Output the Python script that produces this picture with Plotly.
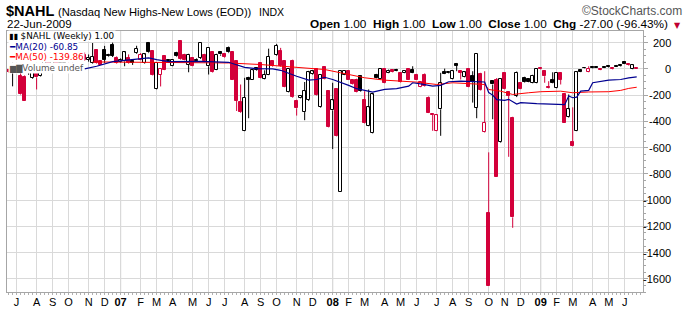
import numpy as np
import pandas as pd
import plotly.graph_objects as go

# ---------------- data (weekly $NAHL) ----------------
weeks = pd.date_range("2006-06-19", periods=158, freq="7D")

opens = [-10, -5, 15, -56, -60, -30, -68, -20, -56, 20, 60, 30, 80, 30, 45, 90, 60, 110, 80, 105,
         70, 45, 141, 57, 146, 108, 184, 83, 50, 57, 83, 57, 121, 70, 45, 197, 133, -157, -43, 95,
         70, 25, 121, 209, 108, 33, 83, 70, 83, 108, 20, 126, -5, 126, 110, 159, 126, 57, -253, -472,
         -68, -81, 8, 45, -76, -43, 57, 108, 133, 57, -177, 63, -245, -220, -329, -238, -40, 0, -293, 12,
         -170, -316, -157, -939, -43, -18, -81, -81, -56, -238, -434, -492, -43, -76, 0, -30, -10, -5, -30, -30,
         0, -10, -43, -136, -43, -220, -346, -472, -308, -26, -35, -76, 40, -18, -61, 0, -56, -295, -36, -484,
         -1096, -94, -81, -560, -30, -180, -372, -207, -106, -68, -76, -106, -106, 8, -18, -136, -81, -144, -30, -195,
         -363, -560, -472, -10, 10, -26, 15, 16, 0, 16, 17, 6, 25, 32, 50, 34, 0, 1]
highs = [-5, 48, 25, -20, -50, 10, 25, 20, 30, 80, 70, 100, 90, 50, 110, 120, 125, 125, 120, 125,
         110, 197, 150, 65, 175, 115, 200, 95, 80, 135, 110, 65, 176, 120, 115, 205, 140, 50, 5, 100,
         75, 75, 130, 215, 115, 115, 90, 80, 200, 115, 165, 135, 115, 135, 118, 170, 130, 65, -119, -68,
         -60, -5, 12, 50, -11, 154, 62, 190, 160, 65, 5, 70, -235, -200, -100, -15, -10, 5, -40, 20,
         -165, -106, -150, -15, -10, -12, -78, -75, -50, -170, -157, -190, -38, 5, 5, -5, -5, 0, -25, -10,
         5, 20, -38, -95, -35, -210, -346, -350, -30, 2, -22, -15, 45, -15, -20, 5, -18, 116, -30, -18,
         -636, -90, -70, -70, -25, -175, -365, -20, -100, -60, -70, -45, 5, 12, -10, -94, -26, -25, -25, -190,
         -195, -293, -20, -5, 14, 20, 18, 20, 5, 20, 25, 10, 30, 36, 60, 38, 33, 1]
lows = [-30, -133, -10, -200, -245, -45, -75, -157, -60, 10, 20, 20, 30, -28, 40, 50, 50, 70, 60, 60,
        55, 40, 40, 30, 45, 90, 90, 40, 45, 20, 40, 30, 115, 65, 40, 120, -50, -160, -134, -10,
        55, 20, 90, 70, 65, -26, 20, 55, 75, 50, -43, -30, -10, 100, 85, 120, -85, -321, -335, -475,
        -376, -85, -15, -72, -80, -48, 15, 100, 15, -140, -180, -220, -356, -225, -391, -245, -45, -206, -298, -80,
        -446, -611, -518, -940, -48, -85, -123, -180, -175, -418, -437, -495, -72, -80, -110, -33, -28, -18, -105, -33,
        -85, -33, -85, -140, -135, -337, -472, -475, -510, -40, -38, -80, -18, -81, -65, -140, -257, -376, -166, -488,
        -1658, -384, -825, -565, -160, -670, -1211, -215, -155, -105, -102, -110, -110, -6, -106, -150, -110, -148, -119, -412,
        -371, -590, -475, -25, 0, -28, 2, 8, -10, 6, 10, -6, 14, 18, 36, 22, -3, 1]
closes = [-26, 20, -5, -195, -245, 10, 20, -65, 20, 60, 30, 80, 40, 45, 90, 60, 110, 80, 105, 70,
          80, 91, 45, 33, 70, 95, 100, 45, 70, 126, 45, 48, 151, 108, 110, 126, -43, 45, 0, -5,
          63, 70, 95, 76, 70, 108, 25, 63, 197, 57, 159, -26, 108, 110, 90, 126, -81, -245, -329, -220,
          -81, -11, -10, -68, -43, 91, 20, 176, 20, -136, 0, -215, -300, -207, -170, -26, -20, -202, -43, -76,
          -442, -240, -515, -18, -15, -81, -119, -177, -170, -414, -293, -195, -68, 0, -106, -18, -25, -15, -101, -15,
          -81, -30, -81, -101, -131, -333, -350, -353, -106, -36, -26, -18, 25, -30, -26, -136, -101, 116, -162, -409,
          -1658, -119, -825, -76, -157, -207, -1131, -30, -151, -101, -98, -51, 0, -3, -56, -147, -106, -30, -81, -409,
          -308, -586, -25, -22, 3, -2, 5, 10, -8, 9, 14, -3, 17, 22, 40, 26, 28, 1]

# moving averages as drawn (week number, value)
ma20_week = [19, 22, 26, 33, 35, 37, 40, 48, 55, 59, 62, 66, 68, 72, 75, 77, 79, 81, 83, 85,
             87, 90, 91, 94, 97, 100, 101, 103, 106, 108, 110, 113, 119, 120, 121, 122, 123, 124, 125, 126,
             127, 128, 132, 139, 140, 141, 142, 143, 145, 146, 150, 153, 155, 157]
ma20_val = [0, 20, 55, 80, 83, 70, 55, 57, 50, 12, 2, 0, -11, -56, -86, -81, -64, -81, -101, -126,
            -151, -172, -177, -157, -151, -132, -106, -114, -132, -126, -98, -94, -100, -180, -200, -235, -240, -240, -232, -253,
            -268, -257, -265, -273, -207, -220, -215, -170, -164, -106, -86, -81, -68, -61]
ma50_week = [21, 30, 40, 50, 55, 63, 72, 79, 83, 89, 94, 100, 102, 107, 111, 119, 120, 123, 126, 130,
             133, 138, 141, 145, 150, 153, 155, 157]
ma50_val = [53, 50, 48, 47, 45, 33, 12, -5, -30, -68, -86, -94, -101, -119, -106, -119, -157, -170, -195, -182,
            -174, -170, -182, -176, -174, -164, -149, -140]

y_ticks = [200, 0, -200, -400, -600, -800, -1000, -1200, -1400, -1600]

# ---------------- styling ----------------
RED = "#D3003A"
BLACK = "#000000"
GRID = "#D9D9D9"
FRAME = "#A6A6A6"
FONT = "Liberation Sans"

o, h, l, c = (np.array(a, dtype=float) for a in (opens, highs, lows, closes))
idx = np.arange(len(weeks))
prev_close = np.r_[o[0], c[:-1]]
line_col = np.where(c >= prev_close, BLACK, RED)
fill_col = np.where(c > o, "#FFFFFF", line_col)
body_top = np.maximum(o, c)
body_bot = np.minimum(o, c)
body_h = np.maximum(body_top - body_bot, 6)

fig = go.Figure()

# wicks (above and below the body)
for col in (BLACK, RED):
    xs, ys = [], []
    for i in idx[line_col == col]:
        if h[i] > body_top[i]:
            xs += [i, i, None]
            ys += [body_top[i], h[i], None]
        if l[i] < body_bot[i]:
            xs += [i, i, None]
            ys += [body_bot[i], l[i], None]
    fig.add_trace(go.Scatter(x=xs, y=ys, mode="lines", line=dict(color=col, width=1),
                             hoverinfo="skip", showlegend=False))

fig.add_trace(go.Bar(
    x=idx, y=body_h, base=body_bot, width=0.62,
    marker=dict(color=fill_col, line=dict(color=line_col, width=1)),
    customdata=np.stack([o, h, l, c], axis=1),
    hovertext=[d.strftime("%d-%b-%Y") for d in weeks],
    hovertemplate="%{hovertext}<br>O %{customdata[0]} H %{customdata[1]} L %{customdata[2]} C %{customdata[3]}<extra></extra>",
    showlegend=False))

fig.add_trace(go.Scatter(x=ma50_week, y=ma50_val, mode="lines",
                         line=dict(color="#FF0000", width=1), showlegend=False, hoverinfo="skip"))
fig.add_trace(go.Scatter(x=ma20_week, y=ma20_val, mode="lines",
                         line=dict(color="#000090", width=1.2), showlegend=False, hoverinfo="skip"))

# month ticks at first bar of each month
months = pd.date_range("2006-07-01", "2009-06-01", freq="MS")
tick_idx, tick_txt, year_idx = [], [], []
for m in months:
    k = int(np.argmax(weeks >= m))
    tick_idx.append(k)
    if m.month == 1:
        tick_txt.append("<b>%02d</b>" % (m.year % 100))
        year_idx.append(k)
    else:
        tick_txt.append(m.strftime("%b")[0])

shapes = [dict(type="line", xref="x", yref="paper", x0=k, x1=k, y0=0, y1=1,
               line=dict(color="#B4B4B4", width=1), layer="below") for k in year_idx]

W, H = 687, 314
L, R, T, B = 6, 44, 31, 19
def xp(px):
    return (px - L) / (W - L - R)
def yp(py):
    return (H - B - py) / (H - T - B)

ann = []
# header
ann.append(dict(text="<b>$NAHL</b>", x=xp(3), y=yp(11), font=dict(size=14.5, family=FONT, color="black"),
                xanchor="left"))
ann.append(dict(text="(Nasdaq New Highs-New Lows (EOD))", x=xp(55), y=yp(11.5),
                font=dict(size=11.2, family=FONT, color="black"), xanchor="left"))
ann.append(dict(text="INDX", x=xp(256), y=yp(12), font=dict(size=10.5, family=FONT, color="black"),
                xanchor="left"))
ann.append(dict(text="©StockCharts.com", x=xp(684), y=yp(11), font=dict(size=12, family=FONT, color="#555555"),
                xanchor="right"))
ann.append(dict(text="22-Jun-2009", x=xp(4), y=yp(24), font=dict(size=11.5, family=FONT, color="black"),
                xanchor="left"))
ann.append(dict(text="<b>Open</b> 1.00  <b>High</b> 1.00  <b>Low</b> 1.00  <b>Close</b> 1.00  <b>Chg</b> -27.00 (-96.43%)",
                x=xp(670), y=yp(24), font=dict(size=11.8, family=FONT, color="black"), xanchor="right"))
ann.append(dict(text="▼", x=xp(672), y=yp(25), font=dict(size=8, family="DejaVu Sans", color="#C00030"),
                xanchor="left"))

# in-chart legend rows (opaque white behind text)
LEG = "DejaVu Sans"
rows = [
    ('<span style="font-size:8px">▮▮</span> $NAHL (Weekly) 1.00', "black", 36.5),
    ('<span style="color:#000090">━</span>MA(20) -60.85', "#000090", 47),
    ('<span style="color:#FF0000">━</span>MA(50) -139.86', "#FF0000", 57.5),
    ('<span style="font-size:8px">▆▇</span>Volume undef', "#555555", 68),
]
for txt, col, py in rows:
    ann.append(dict(text=txt, x=xp(7), y=yp(py), xanchor="left", font=dict(size=8.8, family=LEG, color=col),
                    bgcolor="white", borderpad=0))

# y tick labels, right aligned
for v in y_ticks:
    ann.append(dict(text=str(v), x=xp(673), xref="paper", y=v, yref="y", xanchor="right", yanchor="middle",
                    font=dict(size=11, family=FONT, color="black")))

for a in ann:
    a.setdefault("xref", "paper")
    a.setdefault("yref", "paper")
    a.setdefault("yanchor", "middle")
    a["showarrow"] = False

fig.update_layout(
    width=W, height=H, margin=dict(l=L, r=R, t=T, b=B, pad=0),
    paper_bgcolor="white", plot_bgcolor="white",
    barmode="overlay", bargap=0, showlegend=False,
    shapes=shapes, annotations=ann,
    xaxis=dict(range=[-0.4, 158.57], tickmode="array", tickvals=tick_idx, ticktext=tick_txt,
               showgrid=True, gridcolor=GRID, gridwidth=1, zeroline=False,
               showline=True, mirror=True, linecolor=FRAME, linewidth=1,
               ticks="", tickfont=dict(size=11, family=FONT, color="black"),
               minor=dict(dtick=1, tick0=0, ticks="outside", ticklen=2, tickcolor="#B0B0B0", showgrid=False),
               fixedrange=True),
    yaxis=dict(range=[-1700, 288.5], side="right", tickmode="array", tickvals=y_ticks,
               showticklabels=False, showgrid=True, gridcolor=GRID, gridwidth=1, zeroline=False,
               showline=True, mirror=True, linecolor=FRAME, linewidth=1,
               ticks="outside", ticklen=4, tickcolor=FRAME,
               minor=dict(dtick=50, tick0=0, ticks="outside", ticklen=2, tickcolor=FRAME, showgrid=False),
               fixedrange=True),
)

fig.write_html("out.html")
